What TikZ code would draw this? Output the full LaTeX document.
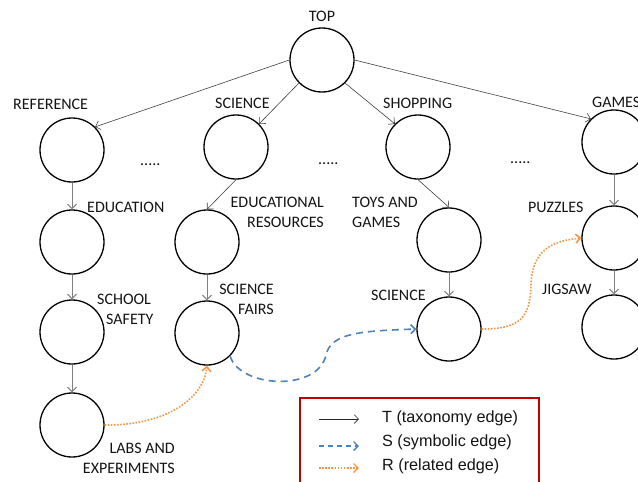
\documentclass[tikz,border=0pt]{standalone}
\usepackage{fontspec}
\setmainfont{Carlito}
\newfontfamily\legfont{Liberation Sans}
\usetikzlibrary{arrows.meta}
\definecolor{sblue}{HTML}{4F81BD}
\definecolor{rorange}{HTML}{F79646}
\definecolor{legred}{HTML}{C00000}
\tikzset{
  concept/.style={circle, draw=black, line width=1.3pt, minimum size=64pt, inner sep=0pt},
  lbl/.style={font=\fontsize{16}{20}\selectfont, inner sep=0pt, text=black!92},
  tip/.style={-{Straight Barb[length=4.5pt,width=9pt]}},
  tedge/.style={tip, draw=black!75, line width=0.6pt},
  tvert/.style={tip, draw=black!50, line width=1pt},
  sedge/.style={tip, draw=sblue, line width=1.6pt, dash pattern=on 7pt off 5pt},
  redge/.style={tip, draw=rorange, line width=1.6pt, dash pattern=on 1.6pt off 1.5pt},
  legtext/.style={font=\legfont\fontsize{16.2}{18}\selectfont, inner sep=0pt, anchor=base west, text=black!92}
}
\begin{document}
\begin{tikzpicture}[x=1pt,y=1pt]
\useasboundingbox (0,0) rectangle (638,-482);
\clip (0,0) rectangle (638,-482);
% concept nodes
\node[concept] (top)    at (322,-60)  {};
\node[concept] (ref)    at (72,-150)  {};
\node[concept] (sci)    at (236,-147) {};
\node[concept] (shop)   at (418,-147) {};
\node[concept] (games)  at (614,-142) {};
\node[concept] (edu)    at (72,-242)  {};
\node[concept] (er)     at (207,-242) {};
\node[concept] (toys)   at (449,-240) {};
\node[concept] (puz)    at (614,-238) {};
\node[concept] (school) at (72,-332)  {};
\node[concept] (sf)     at (207,-333) {};
\node[concept] (scitwo) at (449,-329) {};
\node[concept] (jig)    at (614,-327) {};
\node[concept] (labs)   at (72,-425)  {};
% labels
\node[lbl, anchor=base] (ltop) at (322,-21) {TOP};
\node[lbl, anchor=base west] (lref) at (13,-109) {REFERENCE};
\node[lbl, anchor=base west] (lsci) at (215,-108) {SCIENCE};
\node[lbl, anchor=base west] (lshop) at (383,-108) {SHOPPING};
\node[lbl, anchor=base west] (lgames) at (592,-107) {GAMES};
\node[lbl, anchor=base west] (ledu) at (87,-212) {EDUCATION};
\node[lbl, anchor=north east, align=right] (ler) at (324,-197) {EDUCATIONAL\\RESOURCES};
\node[lbl, anchor=north west, align=left] (ltoys) at (352,-197) {TOYS AND\\GAMES};
\node[lbl, anchor=north east, align=right] (lsf) at (274,-284) {SCIENCE\\FAIRS};
\node[lbl, anchor=north west, align=left] (lschool) at (97,-294) {SCHOOL\\\hspace*{9pt}SAFETY};
\node[lbl, anchor=base west] (lscitwo) at (371,-300) {SCIENCE};
\node[lbl, anchor=base west] (lpuz) at (528,-212) {PUZZLES};
\node[lbl, anchor=base west] (ljig) at (542,-294) {JIGSAW};
\node[lbl, anchor=north east, align=right] (llabs) at (175,-443) {LABS AND\\EXPERIMENTS};
\node[lbl, anchor=base west] (dotsa) at (140,-165) {.....};
\node[lbl, anchor=base west] (dotsb) at (318,-164) {.....};
\node[lbl, anchor=base west] (dotsc) at (510,-163) {.....};
% taxonomy edges
\draw[tedge] (top.west) -- (ref.north east);
\draw[tedge] (top.south west) -- (sci.north east);
\draw[tedge] (top.south east) -- (shop.north west);
\draw[tedge] (top.east) -- (games.north west);
\draw[tedge] (sci.south) -- (er.north);
\draw[tedge] (shop.south) -- (toys.north);
\draw[tvert] (ref) -- (edu);
\draw[tvert] (edu) -- (school);
\draw[tvert] (school) -- (labs);
\draw[tvert] (er) -- (sf);
\draw[tvert] (toys) -- (scitwo);
\draw[tvert] (games) -- (puz);
\draw[tvert] (puz) -- (jig);
% symbolic edge
\draw[sedge] (sf.-45) .. controls (240,-388) and (318,-392) .. (326,-355)
  .. controls (331,-333) and (360,-331) .. (scitwo.west);
% related edges
\draw[redge] (labs.east) .. controls (160,-426) and (203,-402) .. (sf.south);
\draw[redge] (scitwo.east) .. controls (520,-329) and (530,-318) .. (531,-285)
  .. controls (532,-250) and (552,-241) .. (puz.west);
% legend
\node[draw=legred, line width=1.5pt, inner sep=0pt, minimum width=239pt, minimum height=100pt, anchor=north west] (legend) at (299,-397) {};
\coordinate (ta) at (319,-419); \coordinate (tb) at (359,-419);
\coordinate (sa) at (319,-446); \coordinate (sb) at (359,-446);
\coordinate (ra) at (319,-468); \coordinate (rb) at (359,-468);
\draw[tedge, draw=black!85] (ta) -- (tb);
\draw[sedge, line width=1.4pt, dash pattern=on 5pt off 4pt] (sa) -- (sb);
\draw[redge, line width=1.4pt] (ra) -- (rb);
\node[legtext] (lt) at (382,-422) {T (taxonomy edge)};
\node[legtext] (ls) at (382,-446) {S (symbolic edge)};
\node[legtext] (lr) at (382,-470) {R (related edge)};
\end{tikzpicture}
\end{document}
